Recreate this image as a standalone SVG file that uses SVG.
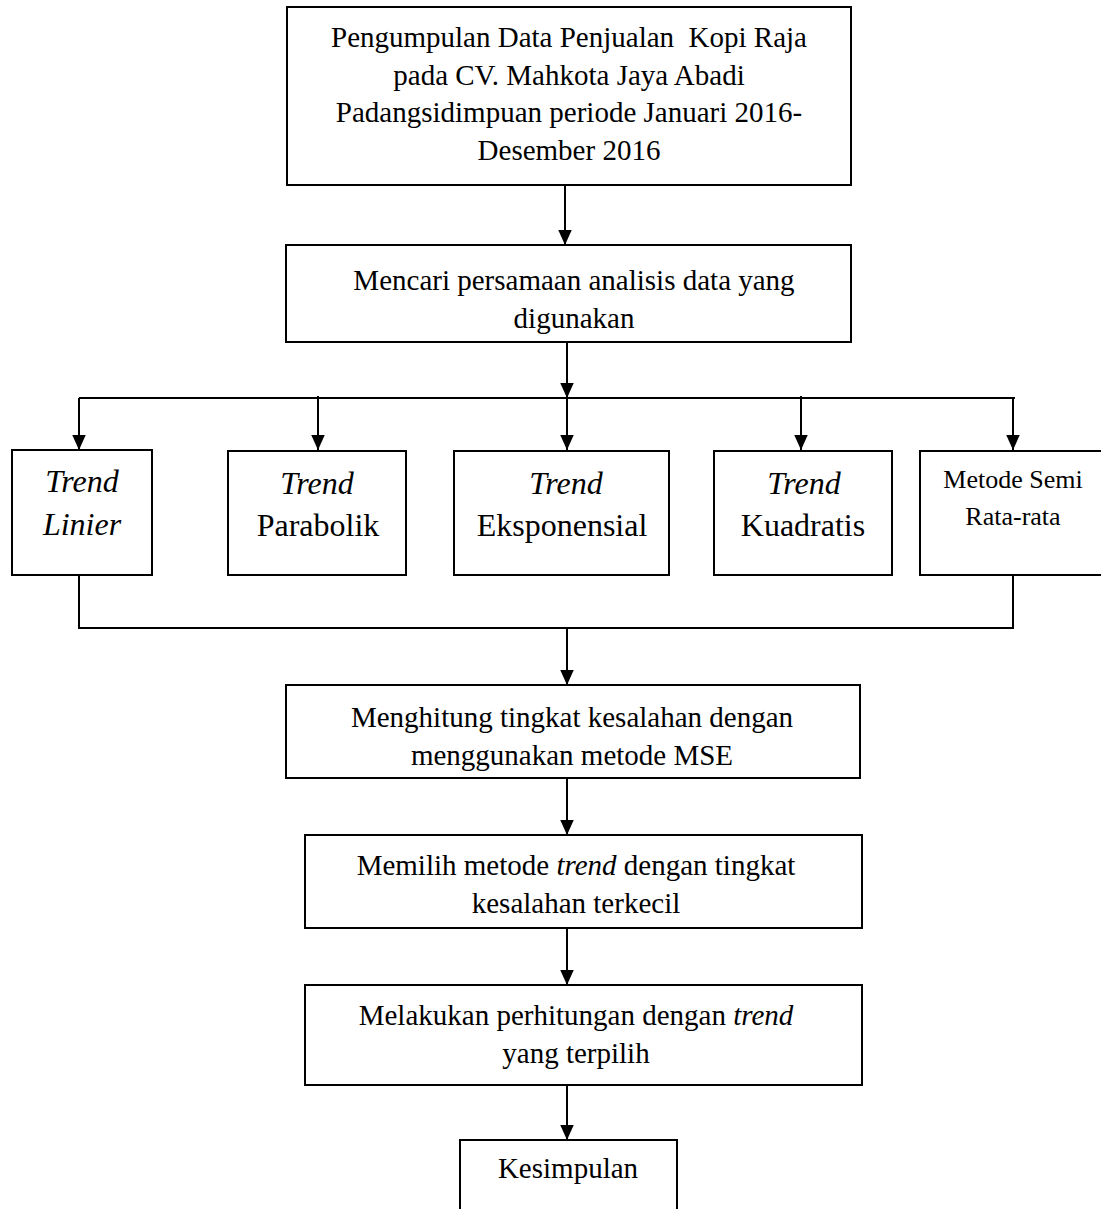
<svg xmlns="http://www.w3.org/2000/svg" width="1101" height="1209" viewBox="0 0 1101 1209">
<style>
.box{fill:#fff;stroke:#000;stroke-width:2}
.t{font-family:"Liberation Serif","Times New Roman",serif;font-size:29px;fill:#000;text-anchor:middle}
.tb{font-family:"Liberation Serif","Times New Roman",serif;font-size:32px;fill:#000;text-anchor:middle}
.ts{font-family:"Liberation Serif","Times New Roman",serif;font-size:26px;fill:#000;text-anchor:middle}
.i{font-style:italic}
.c{fill:none;stroke:#000;stroke-width:2}
</style>
<defs>
<marker id="ah" viewBox="0 0 10 10" refX="10" refY="5" markerUnits="userSpaceOnUse" markerWidth="15" markerHeight="15" orient="auto">
<path d="M0,0.5 L10,5 L0,9.5 z" fill="#000"/>
</marker>
</defs>
<rect width="1101" height="1209" fill="#fff"/>
<g id="connectors">
<path class="c" d="M565,185 V245" marker-end="url(#ah)"/>
<path class="c" d="M567,342 V398" marker-end="url(#ah)"/>
<path class="c" d="M79,398 H1015"/>
<path class="c" d="M79,398 V450" marker-end="url(#ah)"/>
<path class="c" d="M318,396 V450" marker-end="url(#ah)"/>
<path class="c" d="M567,398 V450" marker-end="url(#ah)"/>
<path class="c" d="M801,396 V450" marker-end="url(#ah)"/>
<path class="c" d="M1013,398 V450" marker-end="url(#ah)"/>
<path class="c" d="M79,575 V628 H1013 V575"/>
<path class="c" d="M567,628 V685" marker-end="url(#ah)"/>
<path class="c" d="M567,778 V835" marker-end="url(#ah)"/>
<path class="c" d="M567,928 V985" marker-end="url(#ah)"/>
<path class="c" d="M567,1085 V1140" marker-end="url(#ah)"/>
</g>
<g id="n1">
<rect class="box" x="287" y="7" width="564" height="178"/>
<text class="t" x="569" y="47" xml:space="preserve">Pengumpulan Data Penjualan  Kopi Raja</text>
<text class="t" x="569" y="85">pada CV. Mahkota Jaya Abadi</text>
<text class="t" x="569" y="122">Padangsidimpuan periode Januari 2016-</text>
<text class="t" x="569" y="160">Desember 2016</text>
</g>
<g id="n2">
<rect class="box" x="286" y="245" width="565" height="97"/>
<text class="t" x="574" y="290">Mencari persamaan analisis data yang</text>
<text class="t" x="574" y="328">digunakan</text>
</g>
<g id="n3">
<rect class="box" x="12" y="450" width="140" height="125"/>
<text class="tb i" x="82" y="492">Trend</text>
<text class="tb i" x="82" y="535">Linier</text>
</g>
<g id="n4">
<rect class="box" x="228" y="451" width="178" height="124"/>
<text class="tb i" x="317" y="494">Trend</text>
<text class="tb" x="318" y="536">Parabolik</text>
</g>
<g id="n5">
<rect class="box" x="454" y="451" width="215" height="124"/>
<text class="tb i" x="566" y="494">Trend</text>
<text class="tb" x="562" y="536">Eksponensial</text>
</g>
<g id="n6">
<rect class="box" x="714" y="451" width="178" height="124"/>
<text class="tb i" x="804" y="494">Trend</text>
<text class="tb" x="803" y="536">Kuadratis</text>
</g>
<g id="n7">
<rect class="box" x="920" y="451" width="185" height="124"/>
<text class="ts" x="1013" y="488">Metode Semi</text>
<text class="ts" x="1013" y="525">Rata-rata</text>
</g>
<g id="n8">
<rect class="box" x="286" y="685" width="574" height="93"/>
<text class="t" x="572" y="727">Menghitung tingkat kesalahan dengan</text>
<text class="t" x="572" y="765">menggunakan metode MSE</text>
</g>
<g id="n9">
<rect class="box" x="305" y="835" width="557" height="93"/>
<text class="t" x="576" y="875">Memilih metode <tspan class="i">trend</tspan> dengan tingkat</text>
<text class="t" x="576" y="913">kesalahan terkecil</text>
</g>
<g id="n10">
<rect class="box" x="305" y="985" width="557" height="100"/>
<text class="t" x="576" y="1025">Melakukan perhitungan dengan <tspan class="i">trend</tspan></text>
<text class="t" x="576" y="1063">yang terpilih</text>
</g>
<g id="n11">
<path class="c" d="M460,1210 V1140 H677 V1210"/>
<text class="t" x="568" y="1178">Kesimpulan</text>
</g>
</svg>
